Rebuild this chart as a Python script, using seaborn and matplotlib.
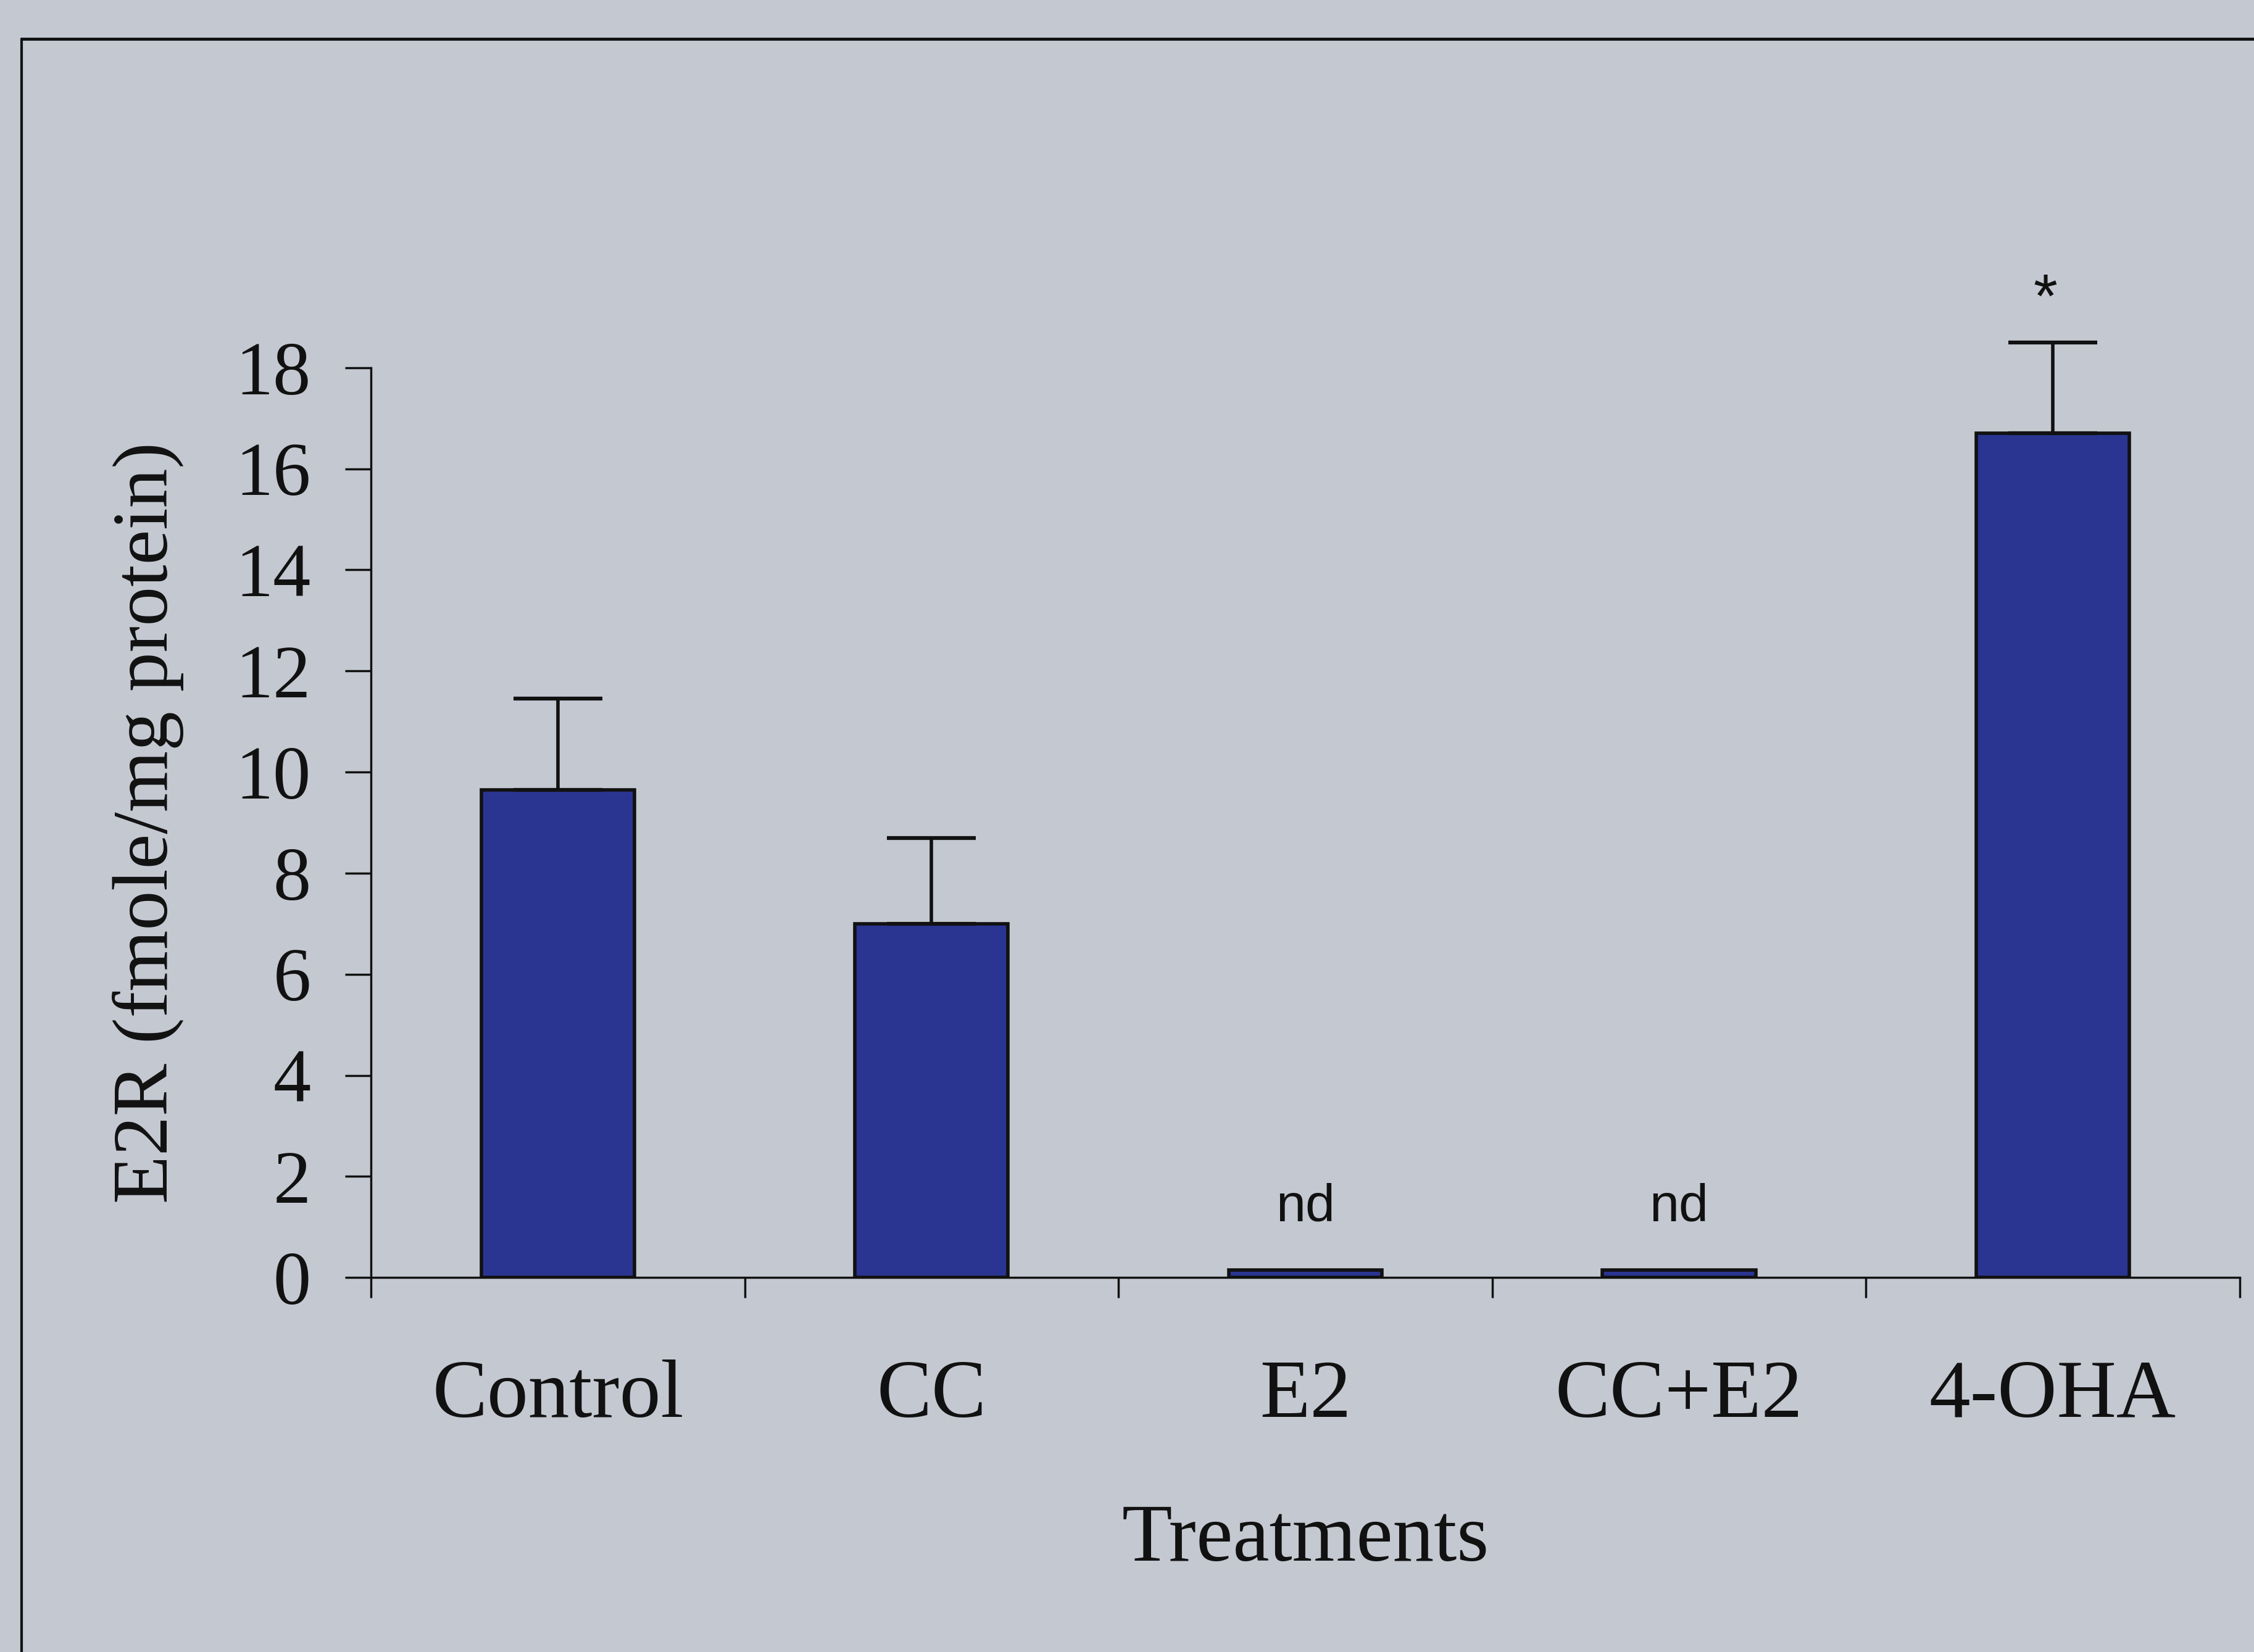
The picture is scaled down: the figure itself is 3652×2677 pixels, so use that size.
import numpy as np
import pandas as pd
import matplotlib
matplotlib.use("Agg")
import matplotlib.pyplot as plt
import seaborn as sns

# data
treatments = ["Control", "CC", "E2", "CC+E2", "4-OHA"]
e2r_mean = [9.65, 7.0, 0.15, 0.15, 16.7]
e2r_err = [1.8, 1.7, 0.0, 0.0, 1.8]
notes = ["", "", "nd", "nd", "*"]

df = pd.DataFrame({"Treatment": treatments, "E2R": e2r_mean, "err": e2r_err})

sns.set_theme(style="white")
plt.rcParams["font.family"] = ["Liberation Serif", "DejaVu Serif"]

bg = "#c4c8d1"
bar_color = "#2a3592"
ink = "#111111"

fig = plt.figure(figsize=(36.52, 26.77), dpi=100, facecolor=bg)
ax = fig.add_axes([0.1646, 0.2267, 0.829, 0.6119])
ax.set_facecolor(bg)

sns.barplot(data=df, x="Treatment", y="E2R", color=bar_color, saturation=1,
            edgecolor=ink, linewidth=4, width=0.41, ax=ax)

# upper-only error bars
has_err = df["err"] > 0
xpos = np.arange(len(df))[has_err]
ax.errorbar(xpos, df["E2R"][has_err], yerr=[np.zeros(has_err.sum()), df["err"][has_err]],
            fmt="none", ecolor=ink, elinewidth=4, capsize=52, capthick=4.5, zorder=3)

# annotations
for i, (m, e, n) in enumerate(zip(e2r_mean, e2r_err, notes)):
    if n == "nd":
        ax.text(i, m + 0.75, n, ha="center", va="bottom", fontsize=62,
                family=["Liberation Sans"], color=ink)
    elif n == "*":
        ax.text(i - 0.02, m + e + 0.25, n, ha="center", va="bottom", fontsize=72,
                family=["Liberation Sans"], color=ink)

ax.set_xlim(-0.5, 4.5)
ax.set_ylim(0, 20)
ax.set_yticks(range(0, 19, 2))
ax.spines["left"].set_bounds(0, 18)
for s in ["top", "right"]:
    ax.spines[s].set_visible(False)
for s in ["left", "bottom"]:
    ax.spines[s].set_color(ink)
    ax.spines[s].set_linewidth(2.5)

ax.tick_params(axis="y", direction="out", length=30, width=2.5, color=ink,
               labelsize=88, pad=40, left=True)
ax.tick_params(axis="x", which="major", length=0, labelsize=96, pad=96)
ax.set_xticks(np.arange(-0.5, 5.0, 1.0), minor=True)
ax.tick_params(axis="x", which="minor", direction="out", length=24, width=2.5,
               color=ink, bottom=True)

ax.set_xlabel("Treatments", fontsize=96, labelpad=80, color=ink)
ax.set_ylabel("E2R (fmole/mg protein)", fontsize=92, color=ink)
ax.yaxis.set_label_coords(-0.100, 9 / 20)
for lab in ax.get_xticklabels() + ax.get_yticklabels():
    lab.set_color(ink)

# outer frame of the scanned figure
fig.add_artist(plt.Line2D([0.0095, 0.0095], [0.0, 0.9765], transform=fig.transFigure,
                          color=ink, linewidth=3))
fig.add_artist(plt.Line2D([0.0095, 1.0], [0.9765, 0.9765], transform=fig.transFigure,
                          color=ink, linewidth=3.5))

fig.savefig("out.png", dpi=100, facecolor=bg)
